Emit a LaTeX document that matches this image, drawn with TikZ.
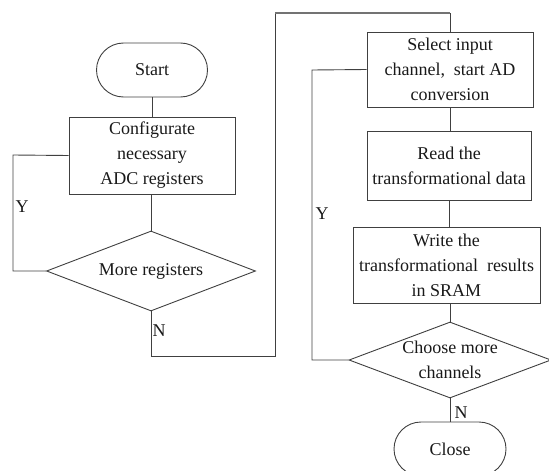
\documentclass[tikz,border=0pt]{standalone}
\usepackage{fontspec}
\setmainfont{Liberation Serif}
\usetikzlibrary{shapes.geometric,shapes.misc}
\begin{document}
\begin{tikzpicture}[x=1pt,y=-1pt,
  every node/.style={font=\fontsize{18}{25}\selectfont, text=black!90},
  flowline/.style={draw=black!75, line width=0.9pt},
  procbox/.style={draw=black!75, line width=0.9pt, rectangle, align=center, inner sep=0pt},
  termbox/.style={draw=black!75, line width=0.9pt, rounded rectangle, inner sep=0pt, minimum width=111pt, minimum height=54pt},
  decbox/.style={draw=black!75, line width=0.9pt, diamond, align=center, inner sep=0pt, aspect=2.6},
  lbl/.style={inner sep=0pt}
]
\useasboundingbox (0,0) rectangle (549,471);
% left column
\node[termbox] (start) at (152,70) {Start};
\node[procbox, minimum width=166pt, minimum height=77pt] (conf) at (152,155.5) {Configurate\\necessary\\ADC registers};
\node[decbox, minimum width=209pt, minimum height=80pt] (more) at (151,271) {More registers};
% right column
\node[procbox, minimum width=166pt, minimum height=75pt] (sel) at (450,69.5) {Select input\\channel,\ \ start AD\\conversion};
\node[procbox, minimum width=164pt, minimum height=69pt] (read) at (449,165.5) {Read the\\transformational data};
\node[procbox, minimum width=187pt, minimum height=76pt] (write) at (446.5,265) {Write the\\transformational\ \ results\\in SRAM};
\node[decbox, minimum width=202pt, minimum height=76pt] (choose) at (450,360) {Choose more\\channels};
\node[termbox, minimum width=112pt] (close) at (450,449) {Close};
% coordinates
\coordinate (ly) at (13,155);
\coordinate (n1) at (151,356);
\coordinate (n2) at (275,356);
\coordinate (n3) at (275,13);
\coordinate (n4) at (450,13);
\coordinate (ry) at (312,70);
% connectors
\draw[flowline] (start.south) -- (start.south |- conf.north);
\draw[flowline] (conf.south -| more.north) -- (more.north);
\draw[flowline] (conf.west) -- (ly) |- (more.west);
\draw[flowline] (more.south) -- (n1) -- (n2) -- (n3);
\draw[draw=black!55, line width=1.4pt] (n3) -- (n4);
\draw[flowline] (n4) -- (sel.north);
\draw[flowline] (sel.south) -- (sel.south |- read.north);
\draw[flowline] (read.south) -- (read.south |- write.north);
\draw[flowline] (write.south -| choose.north) -- (choose.north);
\draw[flowline] (sel.west) -- (ry) |- (choose.west);
\draw[flowline] (choose.south) -- (close.north);
% labels
\node[lbl] (yl) at (22,207) {Y};
\node[lbl] (nl) at (159,331) {N};
\node[lbl] (yr) at (322,214) {Y};
\node[lbl] (nr) at (461,413) {N};
\end{tikzpicture}
\end{document}
